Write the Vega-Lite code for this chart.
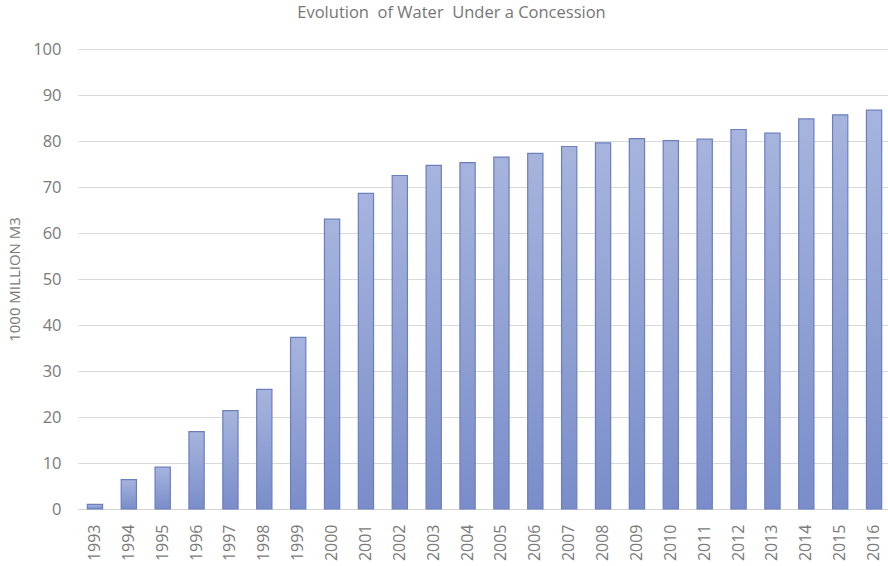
{
  "$schema": "https://vega.github.io/schema/vega-lite/v6.json",
  "autosize": "none",
  "padding": {"left": 78, "top": 49, "right": 0, "bottom": 57},
  "width": 813,
  "height": 460,
  "background": "white",
  "title": {
    "text": "Evolution\u00a0 of Water\u00a0 Under a Concession",
    "font": "Open Sans",
    "fontSize": 16.5,
    "fontWeight": "normal",
    "color": "#767676",
    "anchor": "middle",
    "baseline": "alphabetic",
    "dx": -33,
    "offset": 7
  },
  "config": {
    "view": {"stroke": null},
    "axis": {
      "labelFont": "Open Sans",
      "titleFont": "Open Sans",
      "labelColor": "#7a7a7a",
      "titleColor": "#7a7a7a",
      "gridColor": "#d9d9d9",
      "domainColor": "#d4d4d4",
      "ticks": false
    }
  },
  "data": {
    "values": [
      {"year": "1993", "volume": 1.0},
      {"year": "1994", "volume": 6.4},
      {"year": "1995", "volume": 9.1},
      {"year": "1996", "volume": 16.8},
      {"year": "1997", "volume": 21.4},
      {"year": "1998", "volume": 26.0},
      {"year": "1999", "volume": 37.3},
      {"year": "2000", "volume": 63.0},
      {"year": "2001", "volume": 68.6},
      {"year": "2002", "volume": 72.5},
      {"year": "2003", "volume": 74.7},
      {"year": "2004", "volume": 75.3},
      {"year": "2005", "volume": 76.5},
      {"year": "2006", "volume": 77.3},
      {"year": "2007", "volume": 78.8},
      {"year": "2008", "volume": 79.6},
      {"year": "2009", "volume": 80.5},
      {"year": "2010", "volume": 80.1},
      {"year": "2011", "volume": 80.4},
      {"year": "2012", "volume": 82.5},
      {"year": "2013", "volume": 81.7},
      {"year": "2014", "volume": 84.8},
      {"year": "2015", "volume": 85.7},
      {"year": "2016", "volume": 86.7}
    ]
  },
  "mark": {
    "type": "bar",
    "stroke": "#6b7fbf",
    "strokeWidth": 1.2,
    "fill": {
      "gradient": "linear",
      "x1": 0, "y1": 0, "x2": 0, "y2": 1,
      "stops": [
        {"offset": 0, "color": "#a6b4dd"},
        {"offset": 1, "color": "#7a8dca"}
      ]
    }
  },
  "encoding": {
    "x": {
      "field": "year",
      "type": "ordinal",
      "scale": {"paddingInner": 0.55},
      "axis": {
        "title": null,
        "labelAngle": -90,
        "labelFontSize": 16,
        "labelPadding": 15,
        "domain": true,
        "domainWidth": 1
      }
    },
    "y": {
      "field": "volume",
      "type": "quantitative",
      "scale": {"domain": [0, 100], "nice": false},
      "axis": {
        "title": "1000 MILLION M3",
        "titleFontSize": 15,
        "titleFontWeight": "normal",
        "titlePadding": 10,
        "values": [0, 10, 20, 30, 40, 50, 60, 70, 80, 90, 100],
        "labelFontSize": 16.5,
        "labelPadding": 17,
        "domain": false,
        "grid": true
      }
    }
  }
}
